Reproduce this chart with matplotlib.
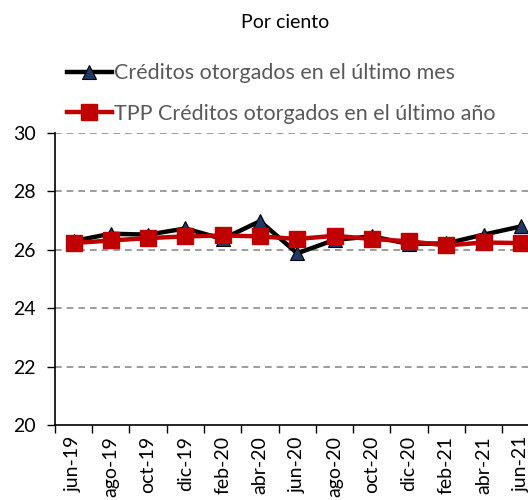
import numpy as np
import matplotlib
matplotlib.use("Agg")
import matplotlib.pyplot as plt

plt.rcParams['font.family'] = ['Lato', 'DejaVu Sans']

# data
meses = ['jun-19', 'ago-19', 'oct-19', 'dic-19', 'feb-20', 'abr-20', 'jun-20',
         'ago-20', 'oct-20', 'dic-20', 'feb-21', 'abr-21', 'jun-21']
ultimo_mes = [26.30, 26.55, 26.52, 26.73, 26.37, 26.98, 25.88,
              26.34, 26.46, 26.20, 26.22, 26.52, 26.80]
ultimo_anio = [26.23, 26.32, 26.40, 26.46, 26.49, 26.46, 26.37,
               26.48, 26.37, 26.29, 26.15, 26.25, 26.23]

fig = plt.figure(figsize=(5.28, 5.0), dpi=100)
ax = fig.add_axes([0.104, 0.15, 0.918, 0.584])

x = np.arange(len(meses))
ax.plot(x, ultimo_mes, color='black', lw=3.2, marker='^', ms=10,
        markerfacecolor='#1F3864', markeredgecolor='black', markeredgewidth=0.8,
        label='Créditos otorgados en el último mes', zorder=3)
ax.plot(x, ultimo_anio, color='#C00000', lw=3.2, marker='s', ms=12,
        markerfacecolor='#C00000', markeredgecolor='#C00000',
        label='TPP Créditos otorgados en el último año', zorder=4)

ax.set_ylim(20, 30)
ax.set_yticks([20, 22, 24, 26, 28, 30])
ax.set_xlim(-0.5, len(meses) - 0.5)

# ticks between categories, labels centred on categories
ax.set_xticks(np.arange(len(meses) + 1) - 0.5)
ax.set_xticklabels([])
ax.set_xticks(x, minor=True)
ax.set_xticklabels(meses, minor=True, rotation=90, fontsize=14)
ax.tick_params(axis='x', which='major', length=6, width=1, direction='out')
ax.tick_params(axis='x', which='minor', length=0, pad=8)
ax.tick_params(axis='y', length=6, width=1, labelsize=14, pad=8)

for v in [22, 24, 26, 28, 30]:
    ax.axhline(v, color='#8C8C8C', lw=1.2, ls=(0, (4, 3)), zorder=1)

for s in ['top', 'right']:
    ax.spines[s].set_visible(False)
ax.spines['left'].set_linewidth(1.2)
ax.spines['bottom'].set_linewidth(1.2)

fig.text(0.54, 0.955, 'Por ciento', ha='center', va='center', fontsize=14)

leg = fig.legend(loc='upper left', bbox_to_anchor=(0.09, 0.912), frameon=False,
                 fontsize=15.5, handlelength=2.1, handletextpad=0.1,
                 labelspacing=0.95)
for t in leg.get_texts():
    t.set_color('#595959')

fig.savefig('out.png', dpi=100)
